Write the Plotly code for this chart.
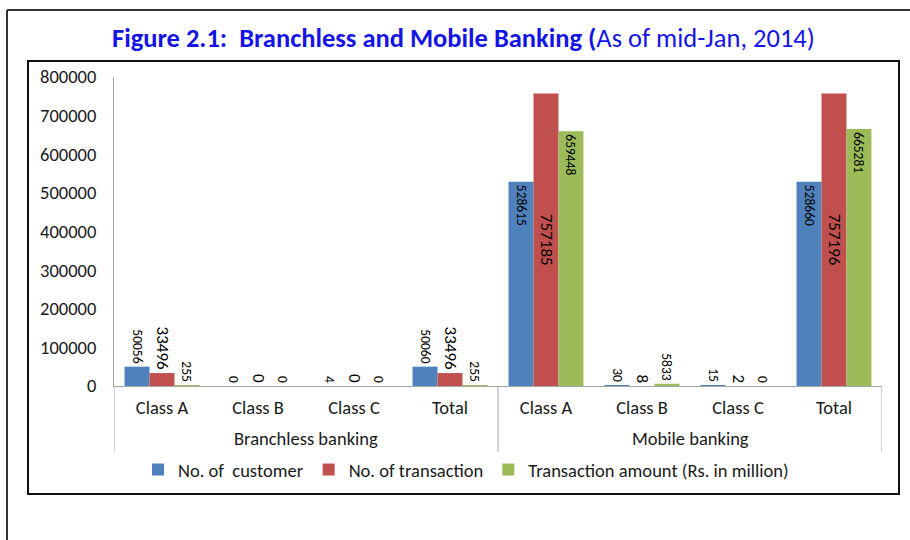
import plotly.graph_objects as go

group_names = ["Branchless banking", "Mobile banking"]
classes = ["Class A", "Class B", "Class C", "Total", "Class A", "Class B", "Class C", "Total"]

customers = [50056, 0, 4, 50060, 528615, 30, 15, 528660]
transactions = [33496, 0, 0, 33496, 757185, 8, 2, 757196]
amounts = [255, 0, 0, 255, 659448, 5833, 0, 665281]

series_names = ["No. of  customer", "No. of transaction", "Transaction amount (Rs. in million)"]
colors = ["#4F81BD", "#C0504D", "#9BBB59"]
label_sizes = [13.5, 17, 13.5]
anchors = ["end", "middle", "end"]

W, H = 910, 540
FONT = "Carlito, Lato, 'Open Sans', sans-serif"
TXT = "#1a1a1a"
FS = 18.5

def px(x):
    return x / W

def py(y):
    return 1 - y / H

xpos = list(range(len(classes)))
per_group = len(classes) // len(group_names)

fig = go.Figure()
for vals, name, col, fs, anc in zip([customers, transactions, amounts], series_names, colors, label_sizes, anchors):
    fig.add_trace(go.Bar(
        x=xpos, y=vals, name=name,
        marker=dict(color=col, line=dict(width=0)),
        text=[str(v) for v in vals],
        textposition=["inside" if v > 100000 else "outside" for v in vals],
        insidetextanchor=anc,
        textangle=90,
        constraintext="none",
        cliponaxis=False,
        textfont=dict(family=FONT, size=fs, color="#000000"),
        outsidetextfont=dict(family=FONT, size=fs, color="#000000"),
        insidetextfont=dict(family=FONT, size=fs, color="#000000"),
    ))

annotations = [dict(
    xref="paper", yref="paper", x=px(464), y=py(38), xanchor="center", yanchor="middle",
    showarrow=False,
    text="<b>Figure 2.1:  Branchless and Mobile Banking (</b>As of mid-Jan, 2014)",
    font=dict(family=FONT, size=26.5, color="#1414E6"),
)]
shapes = [
    dict(type="line", xref="paper", yref="paper", x0=px(7), x1=px(7), y0=py(10), y1=0,
         line=dict(color="#333333", width=2)),
    dict(type="line", xref="paper", yref="paper", x0=px(7), x1=1, y0=py(10), y1=py(10),
         line=dict(color="#333333", width=2)),
    dict(type="rect", xref="paper", yref="paper", x0=px(28), x1=px(899), y0=py(494), y1=py(61),
         line=dict(color="#111111", width=2), fillcolor="rgba(0,0,0,0)"),
]
for gi, g in enumerate(group_names):
    centre = gi * per_group + (per_group - 1) / 2
    annotations.append(dict(xref="x", yref="paper", x=centre, y=py(438), xanchor="center",
                            yanchor="middle", showarrow=False, text=g,
                            font=dict(family=FONT, size=FS, color=TXT)))
for bnd in range(len(group_names) + 1):
    xb = bnd * per_group - 0.5
    shapes.append(dict(type="line", xref="x", yref="paper", x0=xb, x1=xb, y0=py(386), y1=py(452),
                       line=dict(color="#a6a6a6", width=1)))

fig.update_layout(
    width=W, height=H,
    margin=dict(l=0, r=0, t=0, b=0),
    paper_bgcolor="white", plot_bgcolor="white",
    barmode="group", bargap=0.22, bargroupgap=0,
    font=dict(family=FONT, size=FS, color=TXT),
    showlegend=True,
    legend=dict(orientation="h", x=px(466), xanchor="center", y=py(470), yanchor="middle",
                font=dict(family=FONT, size=FS, color=TXT), bgcolor="rgba(0,0,0,0)",
                itemwidth=30, tracegroupgap=0),
    xaxis=dict(domain=[px(114), px(882)], range=[-0.5, len(classes) - 0.5],
               tickmode="array", tickvals=xpos, ticktext=classes,
               showgrid=False, zeroline=False, ticks="", automargin=False,
               showline=True, linecolor="#a6a6a6", linewidth=1, ticklabelstandoff=5,
               tickfont=dict(family=FONT, size=FS, color=TXT)),
    yaxis=dict(domain=[py(386), py(77)], range=[0, 800000], dtick=100000, tickformat="d",
               showgrid=False, zeroline=False, showline=True, linecolor="#a6a6a6", linewidth=1,
               ticks="", ticklabelstandoff=13, automargin=False,
               tickfont=dict(family=FONT, size=FS, color=TXT)),
    annotations=annotations,
    shapes=shapes,
)

fig.write_html("out.html", config={"displayModeBar": False},
               post_script="document.body.style.margin='0';")
